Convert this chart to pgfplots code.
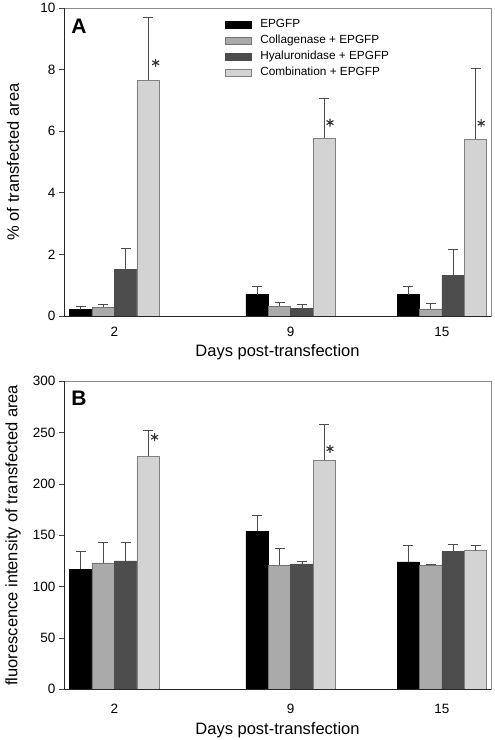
\documentclass[border=0pt]{standalone}
\usepackage{fontspec}
\setmainfont{Liberation Sans}
\usepackage{pgfplots}
\pgfplotsset{compat=1.18}
\definecolor{cB}{HTML}{AAAAAA}
\definecolor{cC}{HTML}{4D4D4D}
\definecolor{cD}{HTML}{D3D3D3}
\definecolor{frameG}{HTML}{8C8C8C}
\pgfplotsset{
  panel/.style={
    width=427pt, height=308pt, scale only axis,
    xmin=0, xmax=16.95, ymin=0,
    xtick={2,9,15},
    axis line style={frameG, line width=0.7pt},
    tick align=outside, ytick pos=left, xtick pos=bottom,
    xtick style={draw=none},
    ytick style={black!75, line width=0.6pt},
    major tick length=5pt,
    /pgf/number format/assume math mode=true,
    tick label style={font=\fontsize{13.5}{15}\selectfont},
    label style={font=\fontsize{16.5}{18}\selectfont},
    xlabel={Days post-transfection},
    ylabel style={at={(axis description cs:0,0.5)}, anchor=center, yshift=51pt},
    clip=false,
    error bars/error bar style={black!70, line width=0.8pt},
    error bars/error mark options={rotate=90, mark size=5pt, line width=0.8pt, black!70},
  },
  ser/.style n args={2}{ybar, bar width=0.89, bar shift=0pt, fill=#1, draw=#2, line width=0.5pt,
    error bars/.cd, y dir=plus, y explicit},
  star/.style={only marks, mark=asterisk, mark size=4pt, black!80, line width=1.1pt, forget plot},
}
\begin{document}
\begin{tikzpicture}
\path[use as bounding box] (0,0) rectangle (495pt,740pt);
% ---------------- Panel A ----------------
\begin{axis}[panel,
  at={(64pt,424pt)}, anchor=south west,
  ymax=10, ytick={0,2,4,6,8,10},
  xticklabel style={anchor=base, yshift=-16pt},
  xlabel style={at={(axis description cs:0.5,0)}, anchor=base, yshift=-41pt},
  ylabel={\% of transfected area},
  legend style={at={(axis description cs:0.376,0.968)}, anchor=north west, draw=none, fill=none,
    font=\fontsize{11.8}{13}\selectfont, inner sep=0pt, row sep=3pt,
    nodes={text height=8.5pt, text depth=2.5pt, inner sep=1pt}},
  legend cell align=left,
  legend image code/.code={\draw[#1, line width=0.5pt] (0pt,-3.6pt) rectangle (26pt,3.6pt);},
  /tikz/every odd column/.append style={column sep=8pt},
]
\addplot[ser={black}{black}] coordinates {(0.665,0.22) +- (0,0.09) (7.665,0.69) +- (0,0.27) (13.665,0.69) +- (0,0.27)};
\addlegendentry{EPGFP}
\addplot[ser={cB}{black!55}] coordinates {(1.555,0.28) +- (0,0.11) (8.555,0.31) +- (0,0.13) (14.555,0.23) +- (0,0.17)};
\addlegendentry{Collagenase + EPGFP}
\addplot[ser={cC}{black!70}] coordinates {(2.445,1.52) +- (0,0.68) (9.445,0.24) +- (0,0.13) (15.445,1.32) +- (0,0.84)};
\addlegendentry{Hyaluronidase + EPGFP}
\addplot[ser={cD}{black!50}] coordinates {(3.335,7.65) +- (0,2.03) (10.335,5.77) +- (0,1.29) (16.335,5.74) +- (0,2.31)};
\addlegendentry{Combination + EPGFP}
\addplot[star] coordinates {(3.64,8.22) (10.56,6.28) (16.56,6.26)};
\draw[black!85, line width=0.8pt] (rel axis cs:0,1) -- (rel axis cs:0,0) -- (rel axis cs:1,0);
\node[font=\bfseries\fontsize{21}{21}\selectfont] at (rel axis cs:0.035,0.9416) {A};
\end{axis}
% ---------------- Panel B ----------------
\begin{axis}[panel,
  at={(64pt,50.7pt)}, anchor=south west,
  ymax=300, ytick={0,50,100,150,200,250,300},
  xticklabel style={anchor=base, yshift=-19pt},
  xlabel style={at={(axis description cs:0.5,0)}, anchor=base, yshift=-44.7pt},
  ylabel={fluorescence intensity of transfected area},
  ylabel style={yshift=0pt},
]
\addplot[ser={black}{black}] coordinates {(0.665,117.0) +- (0,17.8) (7.665,153.9) +- (0,15.2) (13.665,124.1) +- (0,15.9)};
\addplot[ser={cB}{black!55}] coordinates {(1.555,123.1) +- (0,19.8) (8.555,120.8) +- (0,16.8) (14.555,120.8) +- (0,1.3)};
\addplot[ser={cC}{black!70}] coordinates {(2.445,125.1) +- (0,17.8) (9.445,122.1) +- (0,2.3) (15.445,134.1) +- (0,7.5)};
\addplot[ser={cD}{black!50}] coordinates {(3.335,226.8) +- (0,24.9) (10.335,222.9) +- (0,35.0) (16.335,135.1) +- (0,4.9)};
\addplot[star] coordinates {(3.60,245.6) (10.56,234.3)};
\draw[black!85, line width=0.8pt] (rel axis cs:0,1) -- (rel axis cs:0,0) -- (rel axis cs:1,0);
\node[font=\bfseries\fontsize{21}{21}\selectfont] at (rel axis cs:0.035,0.945) {B};
\end{axis}
\end{tikzpicture}
\end{document}
